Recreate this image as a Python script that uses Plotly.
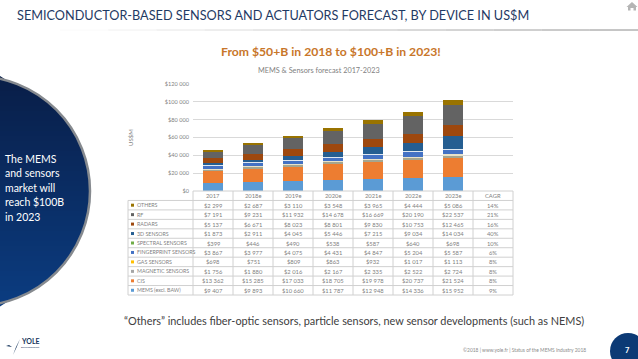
import math
import plotly.graph_objects as go

W, H = 638, 359
years = ["2017", "2018e", "2019e", "2020e", "2021e", "2022e", "2023e", "CAGR"]
bar_years = years[:7]

others = [2299, 2687, 3110, 3548, 3965, 4444, 5086]
rf = [7191, 9231, 11932, 14678, 16669, 20190, 22537]
radars = [5137, 6671, 8023, 8801, 9830, 10753, 12465]
sensors_3d = [1873, 2911, 4045, 5446, 7215, 9034, 14034]
spectral = [399, 446, 490, 538, 587, 640, 698]
fingerprint = [3867, 3977, 4075, 4431, 4847, 5204, 5587]
gas = [698, 751, 809, 863, 932, 1017, 1113]
magnetic = [1756, 1880, 2016, 2167, 2335, 2522, 2724]
cis = [13362, 15285, 17033, 18705, 19978, 20737, 21524]
mems = [9407, 9893, 10660, 11787, 12948, 14336, 15952]

# table order (top to bottom)
names = ["OTHERS", "RF", "RADARS", "3D SENSORS", "SPECTRAL SENSORS", "FINGERPRINT SENSORS",
         "GAS SENSORS", "MAGNETIC SENSORS", "CIS", "MEMS (excl. BAW)"]
series = [others, rf, radars, sensors_3d, spectral, fingerprint, gas, magnetic, cis, mems]
cagr = ["14%", "21%", "16%", "40%", "10%", "6%", "8%", "8%", "8%", "9%"]
colors = ["#997300", "#636363", "#9e480e", "#255e91", "#70ad47", "#4472c4",
          "#ffc000", "#a5a5a5", "#ed7d31", "#5b9bd5"]
bar_colors = ["#997300", "#636363", "#9e480e", "#255e91", "#dfe8f0", "#4472c4",
              "#e9e2c8", "#a5a58f", "#ed7d31", "#5b9bd5"]
y_ticks = [0, 20000, 40000, 60000, 80000, 100000, 120000]
y_labels = ["$0", "$20 000", "$40 000", "$60 000", "$80 000", "$100 000", "$120 000"]


def money(v):
    s = f"{v:,}".replace(",", " ")
    return "$" + s


PL, PR, PT, PB = 193, 513, 84, 191
TL, TB = 128, 295

fig = go.Figure()
for n, s, c in reversed(list(zip(names, series, bar_colors))):
    fig.add_trace(go.Bar(name=n, x=bar_years, y=s, marker=dict(color=c, line=dict(width=0)),
                         width=0.5, showlegend=False))

fig.update_layout(
    width=W, height=H, autosize=False, barmode="stack", showlegend=False,
    paper_bgcolor="white", plot_bgcolor="white",
    margin=dict(l=PL, r=W - PR, t=PT, b=H - PB, pad=0),
    font=dict(family="Lato", color="#7f7f7f"),
    xaxis=dict(type="category", categoryorder="array", categoryarray=years, range=[-0.5, 7.5],
               showticklabels=False, showgrid=False, zeroline=False, ticks=""),
    yaxis=dict(range=[0, 120000], tickvals=y_ticks, ticktext=y_labels, gridcolor="#d9d9d9",
               gridwidth=1, zeroline=False, ticks="", tickfont=dict(size=5.6, color="#7f7f7f"),
               showline=False, ticklabelstandoff=3),
)

shapes, ann = [], []


def px(x):
    return (x - PL) / (PR - PL)


def py(y):
    return (PB - y) / (PB - PT)


def rect(x0, y0, x1, y1, fill, line=None, lw=0, kind="rect", layer="above"):
    shapes.append(dict(type=kind, xref="paper", yref="paper", x0=px(x0), x1=px(x1), y0=py(y0), y1=py(y1),
                       fillcolor=fill, line=dict(color=line or fill, width=lw), layer=layer))


def seg(x0, y0, x1, y1, color="#d0d0d0", w=1):
    shapes.append(dict(type="line", xref="paper", yref="paper", x0=px(x0), x1=px(x1), y0=py(y0), y1=py(y1),
                       line=dict(color=color, width=w)))


def poly(points, fill):
    d = "M " + " L ".join(f"{px(x):.5f},{py(y):.5f}" for x, y in points) + " Z"
    shapes.append(dict(type="path", xref="paper", yref="paper", path=d, fillcolor=fill,
                       line=dict(width=0, color=fill)))


def text(x, y, s, size, color="#7f7f7f", anchor="left", family="Lato", **kw):
    ann.append(dict(xref="paper", yref="paper", x=px(x), y=py(y), text=s, showarrow=False, xanchor=anchor,
                    yanchor="middle", align=anchor, font=dict(size=size, color=color, family=family), **kw))


# table
rows = 11
rh = (TB - PB) / rows
cw = (PR - PL) / 8
for i in range(rows + 1):
    seg(TL if i else PL, PB + i * rh, PR, PB + i * rh)
seg(TL, PB + rh, TL, TB)
for j in range(9):
    seg(PL + j * cw, PB, PL + j * cw, TB)
for j, yr in enumerate(years):
    text(PL + (j + .5) * cw, PB + .5 * rh, yr, 5.8, anchor="center")
for i, (n, s, c, g) in enumerate(zip(names, series, colors, cagr)):
    yc = PB + (i + 1.5) * rh
    rect(131, yc - 1.5, 134, yc + 1.5, c)
    text(135, yc, n, 5.3)
    for j, v in enumerate(s):
        text(PL + (j + .5) * cw, yc, money(v), 5.8, anchor="center")
    text(PL + 7.5 * cw, yc, g, 5.8, anchor="center")

# left circle: gradient bands, then a grey ring
cx, cy, r = -25, 191, 115
bands = 46
top, bottom = (9, 30, 72), (11, 60, 128)
for k in range(bands):
    y0 = cy - r + 2 * r * k / bands
    y1 = cy - r + 2 * r * (k + 1) / bands
    d0, d1 = abs(y0 - cy), abs(y1 - cy)
    x0 = cx + math.sqrt(max(r * r - d0 * d0, 0))
    x1 = cx + math.sqrt(max(r * r - d1 * d1, 0))
    t = k / (bands - 1)
    col = "rgb(%d,%d,%d)" % tuple(round(a + (b - a) * t) for a, b in zip(top, bottom))
    if max(x0, x1) > 0:
        poly([(0, y0), (max(x0, 0), y0), (max(x1, 0), y1 + .5), (0, y1 + .5)], col)
shapes.append(dict(type="circle", xref="paper", yref="paper", x0=px(cx - r), x1=px(cx + r), y0=py(cy - r),
                   y1=py(cy + r), fillcolor="rgba(0,0,0,0)", line=dict(color="#868a8f", width=2.5)))

for k, line in enumerate(["The MEMS", "and sensors", "market will", "reach $100B", "in 2023"]):
    text(3, 159 + k * 14.4, line, 10.5, "white")

# header rule fading in from the left
steps = 12
for k in range(steps):
    t = k / (steps - 1)
    g = round(250 - (250 - 140) * t)
    seg(60 + (W - 60) * k / steps, 30, 60 + (W - 60) * (k + 1) / steps, 30, f"rgb({g},{g},{g})", 1)

# headings
text(15, 15, "SEMICONDUCTOR-BASED SENSORS AND ACTUATORS FORECAST, BY DEVICE IN US$M", 12.7, "#1f3a64")
text(331, 51, "<b>From $50+B in 2018 to $100+B in 2023!</b>", 12.2, "#c8762a", anchor="center")
text(319, 70, "MEMS &amp; Sensors forecast 2017-2023", 7.3, "#7f7f7f", anchor="center")
text(130, 138, "US$M", 6, "#7f7f7f", anchor="center", textangle=-90)
text(354, 320, "“Others” includes fiber-optic sensors, particle sensors, new sensor developments (such as NEMS)",
     10.9, "#404040", anchor="center")
text(461, 350, "©2018 | www.yole.fr | Status of the MEMS Industry 2018", 4.9, "#8c8c8c")

# home icon
poly([(632, 2), (637.5, 7), (636, 7), (636, 10.5), (633.5, 10.5), (633.5, 8), (630.5, 8), (630.5, 10.5),
      (628, 10.5), (628, 7), (626.5, 7)], "#b5b5b5")

# page number
rect(610, 333, 646, 369, "#0c3a75", kind="circle")
text(627, 350, "<b>7</b>", 7.5, "white", anchor="center")

# logo
text(19, 341, "<b>YOLE</b>", 7, "#17365d")
text(19, 347, "Développement", 2.6, "#17365d")
poly([(13, 355), (16, 347), (20, 339), (16.5, 347.5)], "#17365d")
poly([(6, 346), (9, 345), (12, 347), (9, 346.5)], "#17365d")

fig.update_layout(shapes=shapes, annotations=ann)
fig.write_html("out.html", config={"displayModeBar": False},
               post_script="document.body.style.margin='0';document.body.style.overflow='hidden';")
